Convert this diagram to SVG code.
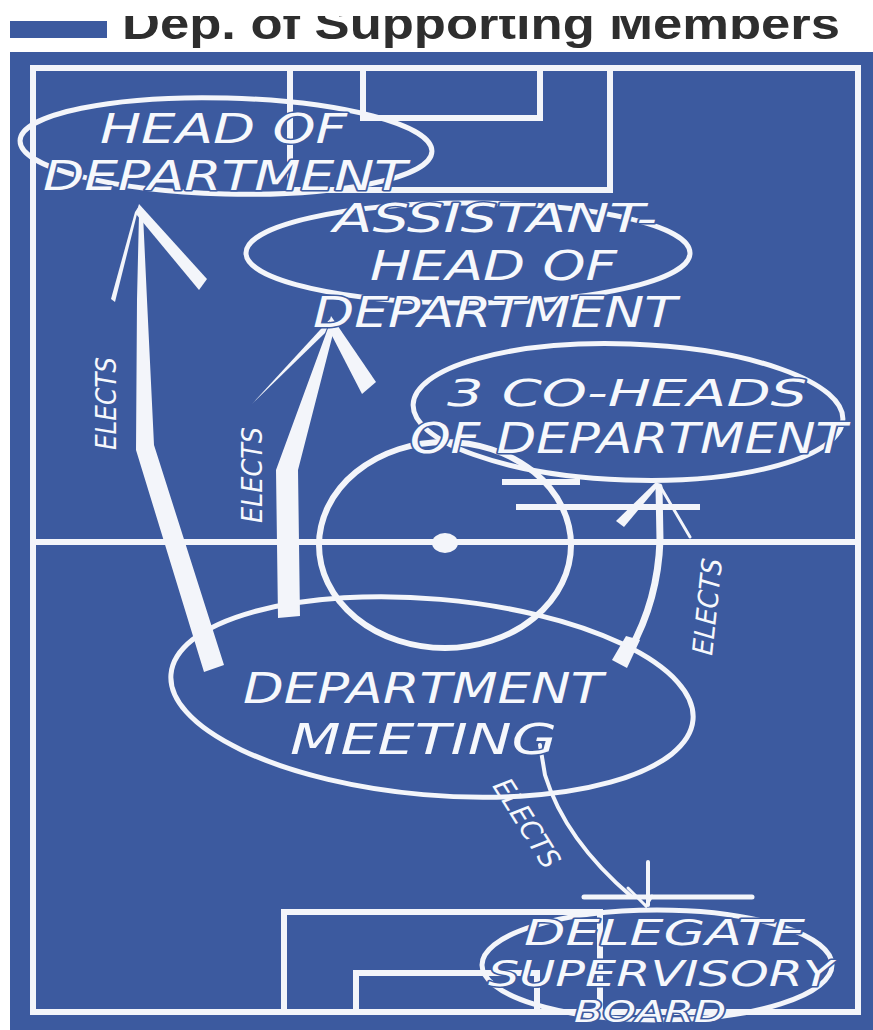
<svg xmlns="http://www.w3.org/2000/svg" width="873" height="1030" viewBox="0 0 873 1030">
<defs>
<style>
.fld{fill:none;stroke:#f3f5fa;stroke-width:6}
.ell{fill:none;stroke:#f3f5fa;stroke-width:5}
.wf{fill:#f3f5fa}
.wl{fill:none;stroke:#f3f5fa;stroke-linecap:round}
.lbl{font-family:"DejaVu Sans",sans-serif;font-style:oblique;fill:#f6f8fc;stroke:#3c5a9f;stroke-width:3;paint-order:stroke;stroke-linejoin:round}
.el{font-family:"DejaVu Sans",sans-serif;font-style:oblique;fill:#f6f8fc;font-size:28px}
</style>
<clipPath id="tc"><rect x="0" y="16" width="873" height="36"/></clipPath>
</defs>
<rect width="873" height="1030" fill="#ffffff"/>
<rect x="10" y="21" width="97" height="17" fill="#3c5a9f"/>
<text x="122" y="39" clip-path="url(#tc)" font-family="Liberation Sans, Arial, sans-serif" font-weight="bold" font-size="44" fill="#2e2e2e" textLength="718" lengthAdjust="spacingAndGlyphs">Dep. of Supporting Members</text>
<rect x="10" y="52" width="863" height="978" fill="#3c5a9f"/>
<g id="field">
<rect class="fld" x="33" y="68" width="825" height="944"/>
<line class="fld" x1="33" y1="542" x2="858" y2="542"/>
<polyline class="fld" points="290,68 290,190 610,190 610,68"/>
<polyline class="fld" points="363,68 363,118 540,118 540,68"/>
<polyline class="fld" points="284,1012 284,912 600,912 600,1012"/>
<polyline class="fld" points="356,1012 356,973 537,973 537,1012"/>
<ellipse class="fld" cx="445" cy="545" rx="126" ry="103"/>
<ellipse cx="445" cy="543" rx="13" ry="10" fill="#f3f5fa"/>
<line class="fld" x1="502" y1="482" x2="580" y2="482" stroke-width="9"/>
<line class="fld" x1="516" y1="507" x2="700" y2="507" stroke-width="8"/>
</g>
<g id="connectors">
<polygon class="wf" points="139,214 143,214 147,300 154,445 224,665 204,672 136,450 137,300"/>
<polygon class="wf" points="139,206 115,302 111,299 135,212"/>
<polygon class="wf" points="139,204 207,279 199,290 136,214"/>
<polygon class="wf" points="331,320 335,326 298,470 300,616 278,618 276,470"/>
<polygon class="wf" points="331,318 252,404 325,333"/>
<polygon class="wf" points="331,316 376,382 362,394 328,328"/>
<path class="wl" d="M659,487 L660,540 Q658,600 630,650" stroke-width="7"/>
<polygon class="wf" points="640,640 627,668 612,660 626,636"/>
<polygon class="wf" points="660,484 624,527 616,521 656,482"/>
<path class="wl" d="M660,486 L690,537" stroke-width="3"/>
<path class="wl" d="M540,745 L545,775 Q565,840 632,897" stroke-width="4"/>
<line class="wl" x1="584" y1="897" x2="752" y2="897" stroke-width="5"/>
<line class="wl" x1="648" y1="862" x2="648" y2="905" stroke-width="4"/>
<path class="wl" d="M628,888 L646,906 L652,896" stroke-width="3"/>
<text class="el" transform="translate(116,450) rotate(-90)" textLength="93" lengthAdjust="spacingAndGlyphs">ELECTS</text>
<text class="el" transform="translate(262,523) rotate(-90)" textLength="96" lengthAdjust="spacingAndGlyphs">ELECTS</text>
<text class="el" transform="translate(712,656) rotate(-84)" textLength="97" lengthAdjust="spacingAndGlyphs">ELECTS</text>
<text class="el" transform="translate(492,786) rotate(58)" textLength="100" lengthAdjust="spacingAndGlyphs">ELECTS</text>
</g>
<g id="head">
<ellipse class="ell" cx="226" cy="146" rx="206" ry="48" transform="rotate(1.5 226 146)"/>
<text class="lbl" x="100" y="143" font-size="40" textLength="247" lengthAdjust="spacingAndGlyphs">HEAD OF</text>
<text class="lbl" x="43" y="190" font-size="40" textLength="364" lengthAdjust="spacingAndGlyphs">DEPARTMENT</text>
</g>
<g id="assistant">
<ellipse class="ell" cx="468" cy="253" rx="222" ry="50"/>
<text class="lbl" x="333" y="232" font-size="39" textLength="324" lengthAdjust="spacingAndGlyphs">ASSISTANT-</text>
<text class="lbl" x="370" y="280" font-size="41" textLength="247" lengthAdjust="spacingAndGlyphs">HEAD OF</text>
<text class="lbl" x="313" y="327" font-size="42" textLength="364" lengthAdjust="spacingAndGlyphs">DEPARTMENT</text>
</g>
<g id="coheads">
<ellipse class="ell" cx="628" cy="412" rx="215" ry="68" transform="rotate(2 628 412)"/>
<text class="lbl" x="447" y="406" font-size="38" textLength="360" lengthAdjust="spacingAndGlyphs">3 CO-HEADS</text>
<text class="lbl" x="410" y="453" font-size="42" textLength="437" lengthAdjust="spacingAndGlyphs">OF DEPARTMENT</text>
</g>
<g id="meeting">
<ellipse class="ell" cx="432" cy="697" rx="262" ry="98" transform="rotate(5 432 697)"/>
<text class="lbl" x="243" y="703" font-size="43" textLength="360" lengthAdjust="spacingAndGlyphs">DEPARTMENT</text>
<text class="lbl" x="290" y="754" font-size="43" textLength="267" lengthAdjust="spacingAndGlyphs">MEETING</text>
</g>
<g id="delegate">
<ellipse class="ell" cx="657" cy="965" rx="175" ry="55"/>
<text class="lbl" x="524" y="945" font-size="36" textLength="281" lengthAdjust="spacingAndGlyphs">DELEGATE</text>
<text class="lbl" x="488" y="986" font-size="36" textLength="345" lengthAdjust="spacingAndGlyphs">SUPERVISORY</text>
<text class="lbl" x="574" y="1022" font-size="31" textLength="152" lengthAdjust="spacingAndGlyphs">BOARD</text>
</g>
</svg>
